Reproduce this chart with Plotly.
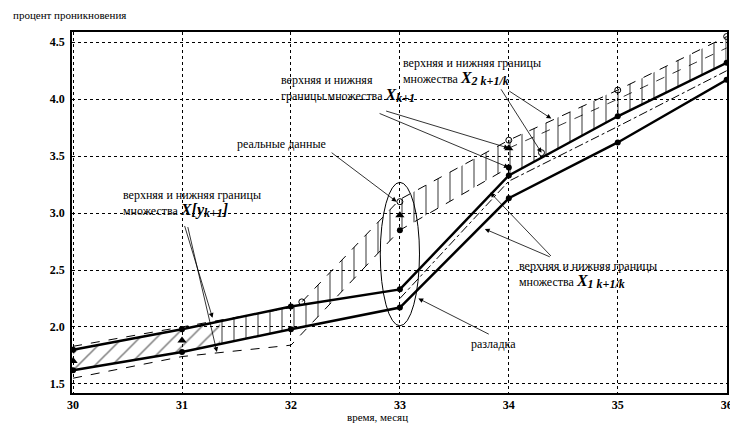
import numpy as np
import plotly.graph_objects as go

# ---------------- data ----------------
months = [30, 31, 32, 33, 34, 35, 36]
x1_upper = [1.80, 1.98, 2.18, 2.33, 3.33, 3.85, 4.32]   # thick solid (X1 upper / X2 lower)
x1_lower = [1.62, 1.78, 1.98, 2.17, 3.13, 3.62, 4.17]   # thick solid lower
dash_up_x = [30, 31, 32, 32.1, 33, 34, 35, 36]
dash_up_y = [1.83, 2.00, 2.17, 2.22, 3.12, 3.64, 4.08, 4.55]
dash_lo_x = [30, 31, 32, 33, 34]
dash_lo_y = [1.55, 1.74, 1.84, 2.85, 3.40]
dashdot_x = [33, 34, 35, 36]
dashdot_y = [2.25, 3.28, 3.76, 4.25]
inner_x = [34, 35, 36]
inner_y = [3.57, 4.00, 4.45]
real_x = [30, 31, 33, 34]
real_y = [1.70, 1.88, 2.98, 3.57]
open_x = [32.1, 33, 34, 34.3, 35, 36]
open_y = [2.22, 3.10, 3.64, 3.53, 4.08, 4.55]
dot_x = [33, 34]
dot_y = [2.85, 3.40]
hatch_diag_range = [30, 31.35]
hatch_vert1_range = [31.35, 32.2]
hatch_vert2_range = [32.2, 34]
hatch_vert3_range = [34, 36]
ellipse = [32.82, 2.01, 33.18, 3.27]

font = "Liberation Serif"

fig = go.Figure()


def band(xr, xs_lo, ys_lo, xs_hi, ys_hi, shape):
    xs = np.linspace(xr[0], xr[1], 40)
    lo = np.interp(xs, xs_lo, ys_lo)
    hi = np.interp(xs, xs_hi, ys_hi)
    fig.add_trace(go.Scatter(x=xs, y=lo, mode="lines", line=dict(width=0),
                             hoverinfo="skip", showlegend=False))
    fig.add_trace(go.Scatter(x=xs, y=hi, mode="lines", line=dict(width=0),
                             fill="tonexty", fillcolor="rgba(0,0,0,0)",
                             fillpattern=dict(shape=shape, fgcolor="black",
                                              bgcolor="rgba(0,0,0,0)",
                                              size=12, solidity=0.13),
                             hoverinfo="skip", showlegend=False))


band(hatch_diag_range, months, x1_lower, months, x1_upper, "/")
band(hatch_vert1_range, months, x1_lower, months, x1_upper, "|")
band(hatch_vert2_range, dash_lo_x, dash_lo_y, dash_up_x, dash_up_y, "|")
band(hatch_vert3_range, months, x1_upper, dash_up_x, dash_up_y, "|")

# lines
fig.add_trace(go.Scatter(x=dash_up_x, y=dash_up_y, mode="lines",
                         line=dict(color="black", width=1, dash="dash"), showlegend=False))
fig.add_trace(go.Scatter(x=dash_lo_x, y=dash_lo_y, mode="lines",
                         line=dict(color="black", width=1, dash="dash"), showlegend=False))
fig.add_trace(go.Scatter(x=dashdot_x, y=dashdot_y, mode="lines",
                         line=dict(color="black", width=1, dash="dashdot"), showlegend=False))
fig.add_trace(go.Scatter(x=inner_x, y=inner_y, mode="lines",
                         line=dict(color="black", width=0.8, dash="dash"), showlegend=False))
fig.add_trace(go.Scatter(x=months, y=x1_upper, mode="lines+markers",
                         line=dict(color="black", width=2.5),
                         marker=dict(size=6, color="black"), showlegend=False))
fig.add_trace(go.Scatter(x=months, y=x1_lower, mode="lines+markers",
                         line=dict(color="black", width=2.5),
                         marker=dict(size=6, color="black"), showlegend=False))
# markers
fig.add_trace(go.Scatter(x=real_x, y=real_y, mode="markers",
                         marker=dict(symbol="triangle-up", size=8, color="black"), showlegend=False))
fig.add_trace(go.Scatter(x=open_x, y=open_y, mode="markers",
                         marker=dict(symbol="circle-open", size=6, color="black", line=dict(width=1)),
                         showlegend=False))
fig.add_trace(go.Scatter(x=dot_x, y=dot_y, mode="markers",
                         marker=dict(size=6, color="black"), showlegend=False))

fig.add_shape(type="circle", xref="x", yref="y", x0=ellipse[0], y0=ellipse[1],
              x1=ellipse[2], y1=ellipse[3], line=dict(color="black", width=1))

big = 'style="font-size:16px"'
sub = 'style="font-size:12px"'
labels = [
    (31.90, 4.09, f"верхняя и нижняя<br>границы множества <b><i><span {big}>X</span><sub><span {sub}>k+1</span></sub></i></b>"),
    (31.50, 3.61, "реальные данные"),
    (30.45, 3.08, f"верхняя и нижняя границы<br>множества <b><i><span {big}>X[y</span><sub><span {sub}>k+1</span></sub><span {big}>]</span></i></b>"),
    (33.02, 4.24, f"верхняя и нижняя границы<br>множества <b><i><span {big}>X</span><sub><span {sub}>2 k+1/k</span></sub></i></b>"),
    (34.08, 2.46, f"верхняя и нижняя границы<br>множества <b><i><span {big}>X</span><sub><span {sub}>1 k+1/k</span></sub></i></b>"),
    (33.64, 1.85, "разладка"),
]
for x, y, t in labels:
    fig.add_annotation(x=x, y=y, xref="x", yref="y", text=t, showarrow=False,
                       xanchor="left", yanchor="middle", align="left", borderpad=0,
                       font=dict(family=font, size=12, color="black"))

arrows = [
    (32.86, 3.90, 34.0, 3.57),
    (32.80, 3.88, 34.0, 3.40),
    (32.36, 3.54, 32.97, 3.10),
    (31.02, 2.90, 31.28, 2.08),
    (31.05, 2.89, 31.32, 1.78),
    (33.92, 4.10, 34.30, 3.53),
    (33.99, 4.08, 34.39, 3.83),
    (34.39, 2.61, 33.78, 2.86),
    (34.40, 2.61, 33.83, 3.18),
    (33.83, 1.93, 33.17, 2.25),
]
for ax, ay, x, y in arrows:
    fig.add_annotation(x=x, y=y, ax=ax, ay=ay, xref="x", yref="y", axref="x", ayref="y",
                       text="", showarrow=True, arrowhead=2, arrowsize=1.2, arrowwidth=0.8,
                       arrowcolor="black")

fig.add_annotation(x=0.466, y=-0.066, xref="paper", yref="paper", text="время, месяц",
                   showarrow=False, xanchor="center", yanchor="middle",
                   font=dict(family=font, size=11, color="black"))

axis_common = dict(showgrid=True, gridcolor="black", griddash="dot", gridwidth=1,
                   showline=True, linecolor="black", linewidth=1.5, mirror=True,
                   ticks="", zeroline=False, automargin=False,
                   tickfont=dict(family=font, size=12, color="black", weight="bold"))
fig.update_xaxes(range=[29.99, 36.003], dtick=1, tick0=30, ticklabeloverflow="allow",
                 **axis_common)
fig.update_yaxes(range=[1.42, 4.59], dtick=0.5, tick0=1.5, tickformat=".1f",
                 ticklabelstandoff=3, **axis_common)

fig.update_layout(width=730, height=425, margin=dict(l=72, r=3, t=32, b=32),
                  plot_bgcolor="white", paper_bgcolor="white", showlegend=False,
                  title=dict(text="процент проникновения", x=13 / 730, xanchor="left",
                             xref="container", y=1 - 15 / 425, yref="container",
                             yanchor="middle",
                             font=dict(family=font, size=11, color="black")))

fig.write_html("out.html", config={"displayModeBar": False},
               post_script="document.body.style.margin='0';document.body.style.overflow='hidden';")
